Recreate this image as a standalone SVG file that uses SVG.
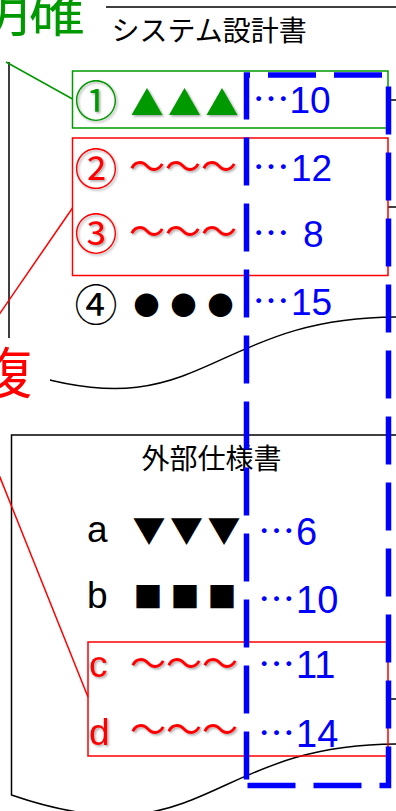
<svg xmlns="http://www.w3.org/2000/svg" width="396" height="811" viewBox="0 0 396 811">
<defs>
<filter id="sh" x="-10%" y="-20%" width="130%" height="150%"><feDropShadow dx="1.5" dy="1.5" stdDeviation="1" flood-color="#000" flood-opacity="0.35"/></filter>
</defs>
<style>
.doc{fill:#fff;stroke:#000;stroke-width:1.5}
.jp{font-family:"Noto Sans CJK JP","Noto Sans",sans-serif}
.lat{font-family:"Liberation Sans",Arial,sans-serif}
.num{font-family:"Liberation Sans",Arial,sans-serif;fill:#0000ff;font-size:37px}
.dots{font-family:"Noto Sans CJK JP",sans-serif;font-size:37px}
.g{fill:#009900}
.r{fill:#ff0000}
.k{fill:#000}
.sh{filter:url(#sh)}
.circ{font-size:43px}
.tri{font-size:33px;letter-spacing:4.5px}
.tl{font-size:36px}
.gbox{fill:none;stroke:#009900;stroke-width:1.5}
.rbox{fill:none;stroke:#ff0000;stroke-width:1.5}
.gl{stroke:#009900;stroke-width:1.5;fill:none}
.rl{stroke:#ff0000;stroke-width:1.5;fill:none}
.stub{stroke:#000;stroke-width:1.5}
.blue{fill:none;stroke:#0000ff;stroke-width:5.5;stroke-dasharray:48 18;stroke-dashoffset:60}
</style>
<rect width="396" height="811" fill="#fff"/>

<g id="doc-system">
<path class="doc" d="M9,7 H398 V317 C203.5,317 203.5,435 9,368 Z"/>
<text class="jp k" x="111.5" y="41" font-size="28">システム設計書</text>
</g>

<g id="doc-external">
<path class="doc" d="M11.5,435 H398 V744 C205,744 205,861.5 11.5,795 Z"/>
<text class="jp k" x="141.5" y="469" font-size="28">外部仕様書</text>
</g>

<g id="label-clear">
<rect x="-10" y="-10" width="116" height="72" fill="#fff"/>
<text class="jp g" x="85" y="31" font-size="56" text-anchor="end">明確</text>
</g>

<g id="label-dup">
<rect x="-100" y="338" width="150" height="77" fill="#fff"/>
<text class="jp r" x="32" y="393" font-size="55" text-anchor="end">重複</text>
</g>

<g id="connectors">
<line class="gl" x1="6" y1="62" x2="72.5" y2="99"/>
<line class="rl" x1="-15" y1="335" x2="72.5" y2="208"/>
<line class="rl" x1="-31" y1="400" x2="88" y2="697"/>
<line class="stub" x1="388" y1="100" x2="398" y2="100"/>
<line class="stub" x1="388" y1="207" x2="398" y2="207"/>
<line class="stub" x1="388" y1="699" x2="398" y2="699"/>
</g>

<g id="box-clear">
<rect class="gbox" x="72.5" y="71" width="315.5" height="57"/>
<text class="jp g sh circ" x="74.5" y="117">①</text>
<text class="jp g sh tri" x="130.5" y="115">▲▲▲</text>
<text class="num" y="113"><tspan class="dots" x="252.5">…</tspan><tspan x="289.5">10</tspan></text>
</g>

<g id="box-dup1">
<rect class="rbox" x="72.5" y="138" width="315.5" height="137.5"/>
<text class="jp r sh circ" x="74.5" y="185">②</text>
<text class="jp r sh tl" x="129" y="180">～～～</text>
<text class="num" y="181"><tspan class="dots" x="252.5">…</tspan><tspan x="291">12</tspan></text>
<text class="jp r sh circ" x="74.5" y="250">③</text>
<text class="jp r sh tl" x="129" y="245">～～～</text>
<text class="num" y="247"><tspan class="dots" x="252.5">…</tspan><tspan x="303">8</tspan></text>
</g>

<g id="row4">
<text class="jp k circ" x="74.5" y="321">④</text>
<text class="jp k" x="133.5" y="315" font-size="26" letter-spacing="11">●●●</text>
<text class="num" y="315"><tspan class="dots" x="252.5">…</tspan><tspan x="291">15</tspan></text>
</g>

<g id="row-a">
<text class="lat k" x="87" y="542" font-size="37">a</text>
<text class="jp k tri" x="132.5" y="543">▼▼▼</text>
<text class="num" y="545" style="font-size:38px"><tspan class="dots" x="258">…</tspan><tspan x="296">6</tspan></text>
</g>

<g id="row-b">
<text class="lat k" x="87" y="608" font-size="37">b</text>
<text class="jp k" x="133.5" y="608" font-size="29" letter-spacing="8">■■■</text>
<text class="num" y="613" style="font-size:38px"><tspan class="dots" x="258">…</tspan><tspan x="296">10</tspan></text>
</g>

<g id="box-dup2">
<rect class="rbox" x="88" y="642" width="300" height="114"/>
<text class="lat r sh" x="89" y="677" font-size="37">c</text>
<text class="jp r sh tl" x="130" y="677">～～～</text>
<text class="num" y="678" style="font-size:38px"><tspan class="dots" x="258">…</tspan><tspan x="296">11</tspan></text>
<text class="lat r sh" x="89" y="745" font-size="37">d</text>
<text class="jp r sh tl" x="130" y="743">～～～</text>
<text class="num" y="747" style="font-size:38px"><tspan class="dots" x="258">…</tspan><tspan x="296">14</tspan></text>
</g>

<g id="highlight">
<path class="blue" d="M246.5,785.5 V75 H388.5 V785.5 H246.5"/>
</g>
</svg>
